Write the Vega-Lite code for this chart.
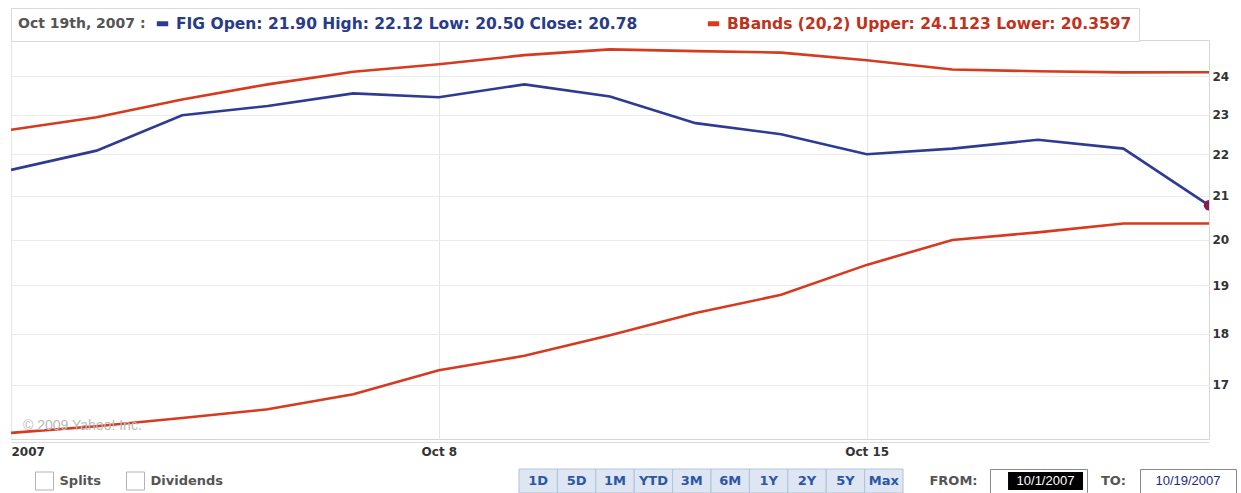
{
  "$schema": "https://vega.github.io/schema/vega-lite/v6.json",
  "background": "white",
  "padding": {"left": 10, "top": 7, "right": 0, "bottom": 0},
  "config": {"view": {"stroke": null}, "font": "DejaVu Sans"},
  "spacing": 10,
  "vconcat": [
    {
      "width": 1198,
      "height": 399,
      "view": {"stroke": "#d6d6d6"},
      "data": {
        "values": [
          {"date": "2007-10-01", "series": "FIG", "band": "Close", "value": 21.62},
          {"date": "2007-10-02", "series": "FIG", "band": "Close", "value": 22.09},
          {"date": "2007-10-03", "series": "FIG", "band": "Close", "value": 22.98},
          {"date": "2007-10-04", "series": "FIG", "band": "Close", "value": 23.22},
          {"date": "2007-10-05", "series": "FIG", "band": "Close", "value": 23.55},
          {"date": "2007-10-08", "series": "FIG", "band": "Close", "value": 23.45},
          {"date": "2007-10-09", "series": "FIG", "band": "Close", "value": 23.79},
          {"date": "2007-10-10", "series": "FIG", "band": "Close", "value": 23.47},
          {"date": "2007-10-11", "series": "FIG", "band": "Close", "value": 22.78},
          {"date": "2007-10-12", "series": "FIG", "band": "Close", "value": 22.50},
          {"date": "2007-10-15", "series": "FIG", "band": "Close", "value": 22.00},
          {"date": "2007-10-16", "series": "FIG", "band": "Close", "value": 22.14},
          {"date": "2007-10-17", "series": "FIG", "band": "Close", "value": 22.36},
          {"date": "2007-10-18", "series": "FIG", "band": "Close", "value": 22.14},
          {"date": "2007-10-19", "series": "FIG", "band": "Close", "value": 20.78},
          {"date": "2007-10-01", "series": "BBands (20,2)", "band": "Upper", "value": 22.61},
          {"date": "2007-10-02", "series": "BBands (20,2)", "band": "Upper", "value": 22.93},
          {"date": "2007-10-03", "series": "BBands (20,2)", "band": "Upper", "value": 23.39},
          {"date": "2007-10-04", "series": "BBands (20,2)", "band": "Upper", "value": 23.79},
          {"date": "2007-10-05", "series": "BBands (20,2)", "band": "Upper", "value": 24.13},
          {"date": "2007-10-08", "series": "BBands (20,2)", "band": "Upper", "value": 24.33},
          {"date": "2007-10-09", "series": "BBands (20,2)", "band": "Upper", "value": 24.58},
          {"date": "2007-10-10", "series": "BBands (20,2)", "band": "Upper", "value": 24.74},
          {"date": "2007-10-11", "series": "BBands (20,2)", "band": "Upper", "value": 24.69},
          {"date": "2007-10-12", "series": "BBands (20,2)", "band": "Upper", "value": 24.65},
          {"date": "2007-10-15", "series": "BBands (20,2)", "band": "Upper", "value": 24.44},
          {"date": "2007-10-16", "series": "BBands (20,2)", "band": "Upper", "value": 24.19},
          {"date": "2007-10-17", "series": "BBands (20,2)", "band": "Upper", "value": 24.14},
          {"date": "2007-10-18", "series": "BBands (20,2)", "band": "Upper", "value": 24.11},
          {"date": "2007-10-19", "series": "BBands (20,2)", "band": "Upper", "value": 24.1123},
          {"date": "2007-10-01", "series": "BBands (20,2)", "band": "Lower", "value": 16.11},
          {"date": "2007-10-02", "series": "BBands (20,2)", "band": "Lower", "value": 16.23},
          {"date": "2007-10-03", "series": "BBands (20,2)", "band": "Lower", "value": 16.38},
          {"date": "2007-10-04", "series": "BBands (20,2)", "band": "Lower", "value": 16.54},
          {"date": "2007-10-05", "series": "BBands (20,2)", "band": "Lower", "value": 16.82},
          {"date": "2007-10-08", "series": "BBands (20,2)", "band": "Lower", "value": 17.28},
          {"date": "2007-10-09", "series": "BBands (20,2)", "band": "Lower", "value": 17.56},
          {"date": "2007-10-10", "series": "BBands (20,2)", "band": "Lower", "value": 17.97},
          {"date": "2007-10-11", "series": "BBands (20,2)", "band": "Lower", "value": 18.42},
          {"date": "2007-10-12", "series": "BBands (20,2)", "band": "Lower", "value": 18.80},
          {"date": "2007-10-15", "series": "BBands (20,2)", "band": "Lower", "value": 19.44},
          {"date": "2007-10-16", "series": "BBands (20,2)", "band": "Lower", "value": 19.99},
          {"date": "2007-10-17", "series": "BBands (20,2)", "band": "Lower", "value": 20.16},
          {"date": "2007-10-18", "series": "BBands (20,2)", "band": "Lower", "value": 20.36},
          {"date": "2007-10-19", "series": "BBands (20,2)", "band": "Lower", "value": 20.3597}
        ]
      },
      "layer": [
        {
          "mark": {"type": "line", "strokeWidth": 2.6, "clip": true},
          "encoding": {
            "x": {
              "field": "date", "type": "ordinal",
              "scale": {"type": "point", "padding": 0},
              "axis": {
                "title": null,
                "values": ["2007-10-01", "2007-10-08", "2007-10-15"],
                "labelExpr": "datum.value == '2007-10-01' ? '2007' : datum.value == '2007-10-08' ? 'Oct 8' : 'Oct 15'",
                "labelAngle": 0,
                "labelAlign": {"condition": {"test": "datum.value == '2007-10-01'", "value": "left"}, "value": "center"},
                "labelFont": "DejaVu Sans", "labelFontWeight": "bold", "labelFontSize": 12, "labelColor": "#333333",
                "ticks": false, "domain": true, "domainColor": "#dcdcdc", "offset": 3, "labelPadding": 4,
                "grid": true, "gridColor": "#e6e6e6"
              }
            },
            "y": {
              "field": "value", "type": "quantitative",
              "scale": {"type": "log", "domain": [16, 25], "nice": false, "zero": false},
              "axis": {
                "orient": "right", "title": null,
                "values": [17, 18, 19, 20, 21, 22, 23, 24], "format": "d",
                "ticks": false, "domain": false,
                "labelFont": "DejaVu Sans", "labelFontWeight": "bold", "labelFontSize": 12, "labelColor": "#333333",
                "labelPadding": 3, "grid": true, "gridColor": "#ebebeb"
              }
            },
            "color": {
              "field": "series", "type": "nominal",
              "scale": {"domain": ["FIG", "BBands (20,2)"], "range": ["#2e3b92", "#d63a1f"]},
              "legend": {
                "orient": "none", "legendX": 0, "legendY": -32, "direction": "horizontal",
                "title": "Oct 19th, 2007 :", "titleOrient": "left",
                "titleFont": "DejaVu Sans", "titleFontWeight": "bold", "titleFontSize": 14, "titleColor": "#555555",
                "titlePadding": 8,
                "labelExpr": "datum.label == 'FIG' ? 'FIG Open: 21.90 High: 22.12 Low: 20.50 Close: 20.78' : 'BBands (20,2) Upper: 24.1123 Lower: 20.3597'",
                "labelFont": "DejaVu Sans", "labelFontWeight": "bold", "labelFontSize": 15.5, "labelLimit": 700,
                "labelOffset": 5,
                "symbolType": "stroke", "symbolStrokeWidth": 5, "symbolSize": 130,
                "columnPadding": 59, "padding": 7,
                "strokeColor": "#d9d9d9", "fillColor": "white",
                "encode": {"labels": {"update": {"fill": {"signal": "datum.value === 'FIG' ? '#283a8a' : '#c0321c'"}}}}
              }
            },
            "detail": {"field": "band", "type": "nominal"}
          }
        },
        {
          "transform": [{"filter": "datum.band == 'Close' && datum.date == '2007-10-19'"}],
          "mark": {"type": "circle", "size": 110, "color": "#8b1a4b", "opacity": 1, "clip": true},
          "encoding": {
            "x": {"field": "date", "type": "ordinal"},
            "y": {"field": "value", "type": "quantitative"}
          }
        },
        {
          "data": {"values": [{"note": "© 2009 Yahoo! Inc."}]},
          "mark": {"type": "text", "align": "left", "baseline": "middle", "dx": 12, "fontSize": 14, "color": "#b8b8b8", "font": "Liberation Sans"},
          "encoding": {
            "x": {"datum": "2007-10-01", "type": "ordinal"},
            "y": {"datum": 16.23, "type": "quantitative"},
            "text": {"field": "note"}
          }
        }
      ]
    },
    {
      "spacing": 10,
      "hconcat": [
        {
          "width": 100, "height": 24,
          "data": {"values": [{"item": "Splits"}]},
          "encoding": {
            "x": {"field": "item", "type": "nominal",
                  "scale": {"type": "point", "align": 0.335},
                  "axis": null}
          },
          "layer": [
            {"mark": {"type": "square", "size": 324, "filled": true, "fill": "white", "stroke": "#b3b3b3", "strokeWidth": 1, "opacity": 1}},
            {"mark": {"type": "text", "align": "left", "dx": 15, "font": "DejaVu Sans", "fontWeight": "bold", "fontSize": 13, "color": "#555555"},
             "encoding": {"text": {"field": "item"}}}
          ]
        },
        {
          "width": 387, "height": 24,
          "data": {"values": [{"item": "Dividends"}]},
          "encoding": {
            "x": {"field": "item", "type": "nominal",
                  "scale": {"type": "point", "align": 0.0375},
                  "axis": null}
          },
          "layer": [
            {"mark": {"type": "square", "size": 324, "filled": true, "fill": "white", "stroke": "#b3b3b3", "strokeWidth": 1, "opacity": 1}},
            {"mark": {"type": "text", "align": "left", "dx": 15, "font": "DejaVu Sans", "fontWeight": "bold", "fontSize": 13, "color": "#555555"},
             "encoding": {"text": {"field": "item"}}}
          ]
        },
        {
          "width": 399, "height": 24,
          "data": {"values": [{"range": "1D"}, {"range": "5D"}, {"range": "1M"}, {"range": "YTD"}, {"range": "3M"}, {"range": "6M"}, {"range": "1Y"}, {"range": "2Y"}, {"range": "5Y"}, {"range": "Max"}]},
          "encoding": {
            "x": {"field": "range", "type": "nominal", "sort": null,
                  "scale": {"type": "band", "paddingInner": 0, "paddingOuter": 0.195, "align": 0},
                  "axis": null}
          },
          "layer": [
            {"mark": {"type": "rect", "fill": "#dde6f2", "stroke": "#b2c3da", "strokeWidth": 1}},
            {"mark": {"type": "text", "font": "DejaVu Sans", "fontWeight": "bold", "fontSize": 13, "color": "#2d56a6"},
             "encoding": {"text": {"field": "range"}}}
          ]
        },
        {
          "width": 51, "height": 24,
          "data": {"values": [{"t": "FROM:"}]},
          "mark": {"type": "text", "font": "DejaVu Sans", "fontWeight": "bold", "fontSize": 13, "color": "#555555"},
          "encoding": {"text": {"field": "t"}}
        },
        {
          "width": 97, "height": 24,
          "view": {"stroke": "#8a8a8a", "fill": "white"},
          "data": {"values": [{"t": "10/1/2007"}]},
          "layer": [
            {"mark": {"type": "rect", "color": "black"},
             "encoding": {
               "x": {"datum": 0.186, "type": "quantitative", "scale": {"domain": [0, 1]}, "axis": null},
               "x2": {"datum": 0.959},
               "y": {"datum": 0.13, "type": "quantitative", "scale": {"domain": [0, 1]}, "axis": null},
               "y2": {"datum": 0.87}
             }},
            {"mark": {"type": "text", "color": "white", "font": "Liberation Sans", "fontSize": 13},
             "encoding": {
               "x": {"datum": 0.572, "type": "quantitative"},
               "text": {"field": "t"}
             }}
          ]
        },
        {
          "width": 31, "height": 24,
          "data": {"values": [{"t": "TO:"}]},
          "mark": {"type": "text", "font": "DejaVu Sans", "fontWeight": "bold", "fontSize": 13, "color": "#555555"},
          "encoding": {"text": {"field": "t"}}
        },
        {
          "width": 96, "height": 24,
          "view": {"stroke": "#8a8a8a", "fill": "white"},
          "data": {"values": [{"t": "10/19/2007"}]},
          "mark": {"type": "text", "color": "#1c2a80", "font": "Liberation Sans", "fontSize": 13},
          "encoding": {"text": {"field": "t"}}
        }
      ]
    }
  ]
}
